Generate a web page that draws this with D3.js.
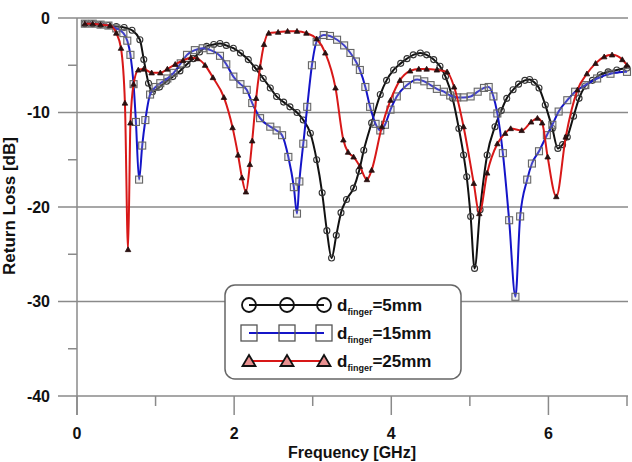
<!DOCTYPE html>
<html>
<head>
<meta charset="utf-8">
<script src="https://cdn.jsdelivr.net/npm/d3@7"></script>
<style>
  html, body { margin: 0; padding: 0; background: #fff; }
  svg text { font-family: "Liberation Sans", Arial, sans-serif; font-weight: bold; fill: #111; }
</style>
</head>
<body>
<div id="chart"></div>
<script>
// return loss curves, [frequency GHz, dB]
const finger5 = [
  [0.1,-0.6],[0.2,-0.6],[0.3,-0.7],[0.4,-0.8],[0.5,-0.9],[0.6,-1.0],[0.7,-1.3],[0.8,-2.3],
  [0.85,-4.4],[0.91,-6.9],[0.96,-7.8],[1.05,-7.3],[1.14,-6.7],[1.22,-6.2],[1.31,-5.6],[1.4,-4.9],
  [1.48,-4.3],[1.56,-3.6],[1.65,-3.0],[1.74,-2.8],[1.82,-2.7],[1.9,-2.9],[1.99,-3.2],[2.08,-3.7],
  [2.18,-4.4],[2.27,-5.3],[2.37,-6.4],[2.46,-7.4],[2.54,-8.3],[2.63,-8.9],[2.71,-9.4],[2.8,-10.0],
  [2.88,-10.8],[2.97,-12.2],[3.05,-15.0],[3.12,-18.5],[3.18,-22.5],[3.24,-25.4],[3.3,-23.0],
  [3.36,-20.6],[3.43,-19.2],[3.52,-18.0],[3.59,-16.2],[3.65,-14.0],[3.75,-11.1],[3.86,-8.1],
  [3.94,-6.6],[4.03,-5.5],[4.12,-4.8],[4.2,-4.3],[4.28,-3.9],[4.37,-3.7],[4.45,-3.9],[4.54,-4.4],
  [4.62,-5.1],[4.69,-6.2],[4.78,-8.5],[4.86,-11.7],[4.92,-14.5],[4.96,-16.8],[5.01,-21.0],
  [5.06,-26.5],[5.13,-20.3],[5.22,-14.5],[5.32,-11.5],[5.4,-9.8],[5.47,-8.5],[5.55,-7.6],
  [5.62,-7.0],[5.7,-6.6],[5.76,-6.5],[5.82,-6.8],[5.88,-7.4],[5.96,-9.2],[6.05,-11.7],[6.12,-13.8],
  [6.18,-13.4],[6.24,-12.6],[6.32,-10.4],[6.39,-8.5],[6.47,-7.2],[6.56,-6.6],[6.66,-6.0],
  [6.76,-5.7],[6.87,-5.5],[7.0,-5.3]
];
const finger15 = [
  [0.1,-0.6],[0.2,-0.6],[0.3,-0.7],[0.4,-0.8],[0.5,-1.1],[0.59,-1.6],[0.64,-2.4],[0.68,-3.9],
  [0.72,-7.0],[0.75,-11.0],[0.79,-17.1],[0.83,-13.5],[0.87,-10.8],[0.93,-8.1],[1.0,-7.3],
  [1.06,-6.9],[1.15,-6.4],[1.23,-5.8],[1.32,-4.8],[1.4,-3.9],[1.5,-3.4],[1.6,-3.2],[1.7,-3.4],
  [1.82,-4.0],[1.9,-4.9],[1.99,-6.2],[2.08,-7.0],[2.16,-7.6],[2.23,-9.0],[2.33,-10.6],[2.46,-11.5],
  [2.54,-11.9],[2.61,-12.4],[2.69,-14.7],[2.76,-17.9],[2.8,-20.7],[2.83,-17.3],[2.88,-13.3],
  [2.93,-9.4],[2.99,-5.0],[3.05,-2.5],[3.14,-1.8],[3.22,-1.9],[3.31,-2.3],[3.4,-2.9],[3.48,-3.7],
  [3.55,-4.6],[3.6,-5.5],[3.67,-7.3],[3.73,-9.4],[3.8,-11.2],[3.86,-11.9],[3.92,-11.3],[3.99,-9.7],
  [4.07,-8.3],[4.2,-7.1],[4.33,-6.5],[4.42,-6.7],[4.5,-7.1],[4.58,-7.5],[4.67,-7.8],[4.75,-8.2],
  [4.84,-8.4],[4.92,-8.4],[5.01,-8.3],[5.1,-7.8],[5.18,-7.4],[5.24,-7.3],[5.3,-8.3],[5.35,-10.1],
  [5.42,-14.3],[5.5,-21.4],[5.58,-29.5],[5.64,-21.0],[5.73,-17.1],[5.79,-15.4],[5.88,-14.1],
  [5.98,-12.4],[6.05,-11.3],[6.13,-9.9],[6.24,-8.7],[6.34,-7.8],[6.47,-7.1],[6.62,-6.4],
  [6.79,-5.9],[7.0,-5.7]
];
const finger25 = [
  [0.1,-0.6],[0.2,-0.6],[0.3,-0.7],[0.42,-0.8],[0.5,-1.6],[0.56,-3.2],[0.61,-9.0],[0.65,-24.5],
  [0.68,-11.1],[0.72,-7.0],[0.78,-5.5],[0.85,-5.4],[0.95,-5.8],[1.06,-5.8],[1.15,-5.4],[1.25,-4.9],
  [1.35,-4.5],[1.45,-4.2],[1.53,-4.3],[1.63,-5.0],[1.73,-6.3],[1.87,-8.4],[1.98,-11.6],[2.05,-14.5],
  [2.1,-16.9],[2.15,-18.4],[2.2,-15.5],[2.23,-13.0],[2.28,-8.5],[2.33,-5.2],[2.38,-2.8],[2.44,-1.6],
  [2.56,-1.5],[2.68,-1.4],[2.8,-1.4],[2.92,-1.6],[3.05,-2.2],[3.16,-3.7],[3.29,-7.4],[3.39,-12.9],
  [3.45,-14.2],[3.52,-14.7],[3.6,-15.7],[3.69,-17.1],[3.75,-16.1],[3.88,-11.5],[3.99,-8.7],
  [4.11,-6.6],[4.24,-5.6],[4.35,-5.4],[4.45,-5.4],[4.58,-5.5],[4.71,-5.7],[4.8,-7.3],[4.92,-11.5],
  [5.05,-17.5],[5.12,-20.7],[5.22,-16.4],[5.35,-13.3],[5.45,-12.2],[5.52,-11.7],[5.66,-11.9],
  [5.78,-11.0],[5.86,-10.6],[5.92,-11.1],[5.99,-14.7],[6.1,-18.9],[6.22,-12.6],[6.37,-7.6],
  [6.49,-5.9],[6.6,-4.8],[6.71,-4.1],[6.81,-3.9],[6.94,-4.4],[7.0,-5.0]
];

const seriesNames = ["5mm", "15mm", "25mm"];
const xTicks = [0, 2, 4, 6];
const xMinorTicks = [1, 3, 5, 7];
const yTicks = [0, -10, -20, -30, -40];
const yMinorTicks = [-5, -15, -25, -35];

const width = 632, height = 462;

const svg = d3.select("#chart").append("svg")
    .attr("width", width)
    .attr("height", height);

const x = d3.scaleLinear().domain([0, 7]).range([77, 627]);
const y = d3.scaleLinear().domain([-40, 0]).range([396, 18]);

const gridColor = "#8a8a8a";

// horizontal grid lines (also serve as major y ticks and the x axis)
svg.append("g")
    .selectAll("line")
    .data(yTicks)
    .join("line")
    .attr("x1", 58)
    .attr("x2", 628)
    .attr("y1", d => y(d))
    .attr("y2", d => y(d))
    .attr("stroke", gridColor)
    .attr("stroke-width", 1.5);

// y axis line
svg.append("line")
    .attr("x1", x(0)).attr("x2", x(0))
    .attr("y1", y(0)).attr("y2", 415)
    .attr("stroke", gridColor)
    .attr("stroke-width", 1.5);

svg.append("g")
    .selectAll("line")
    .data(yMinorTicks)
    .join("line")
    .attr("x1", 68).attr("x2", x(0))
    .attr("y1", d => y(d)).attr("y2", d => y(d))
    .attr("stroke", gridColor)
    .attr("stroke-width", 1.5);

svg.append("g")
    .selectAll("line")
    .data(xTicks.concat(xMinorTicks))
    .join("line")
    .attr("x1", d => x(d)).attr("x2", d => x(d))
    .attr("y1", y(-40))
    .attr("y2", d => xTicks.includes(d) ? 415 : 406)
    .attr("stroke", gridColor)
    .attr("stroke-width", 1.5);

// tick labels
svg.append("g")
    .selectAll("text")
    .data(yTicks)
    .join("text")
    .attr("x", 50)
    .attr("y", d => y(d))
    .attr("dy", "0.36em")
    .attr("text-anchor", "end")
    .style("font-size", "16px")
    .text(d => d);

svg.append("g")
    .selectAll("text")
    .data(xTicks)
    .join("text")
    .attr("x", d => x(d))
    .attr("y", 439)
    .attr("text-anchor", "middle")
    .style("font-size", "16px")
    .text(d => d);

// axis titles
svg.append("text")
    .attr("x", (x(0) + x(7)) / 2)
    .attr("y", 458)
    .attr("text-anchor", "middle")
    .style("font-size", "16px")
    .text("Frequency [GHz]");

svg.append("text")
    .attr("transform", "translate(15,206) rotate(-90)")
    .attr("text-anchor", "middle")
    .style("font-size", "17px")
    .text("Return Loss [dB]");

// curves
const line = d3.line()
    .x(d => x(d[0]))
    .y(d => y(d[1]))
    .curve(d3.curveMonotoneX);

const styles = [
    { data: finger5, color: "#111111", marker: "circle" },
    { data: finger15, color: "#1515c8", marker: "square" },
    { data: finger25, color: "#d81818", marker: "triangle" }
];

function drawMarker(g, type, size) {
    if (type === "circle") {
        g.append("circle").attr("r", size / 2)
            .attr("fill", "none").attr("stroke", "#333").attr("stroke-width", 1.1);
    } else if (type === "square") {
        g.append("rect")
            .attr("x", -size / 2).attr("y", -size / 2)
            .attr("width", size).attr("height", size)
            .attr("fill", "rgba(200,200,200,0.25)").attr("stroke", "#666").attr("stroke-width", 1.1);
    } else {
        const s = size;
        g.append("path")
            .attr("d", `M0,${-s * 0.55}L${s * 0.55},${s * 0.42}L${-s * 0.55},${s * 0.42}Z`)
            .attr("fill", "#2a1010").attr("stroke", "#2a1010").attr("stroke-width", 0.8);
    }
}

styles.forEach(s => {
    const g = svg.append("g");
    g.append("path")
        .datum(s.data)
        .attr("d", line)
        .attr("fill", "none")
        .attr("stroke", s.color)
        .attr("stroke-width", 2);

    g.selectAll("g.m")
        .data(s.data)
        .join("g")
        .attr("class", "m")
        .attr("transform", d => `translate(${x(d[0])},${y(d[1])})`)
        .each(function() {
            const size = s.marker === "circle" ? 6 : (s.marker === "square" ? 7 : 5);
            drawMarker(d3.select(this), s.marker, size);
        });
});

// legend
const legend = svg.append("g");
legend.append("rect")
    .attr("x", 225).attr("y", 285)
    .attr("width", 236).attr("height", 94)
    .attr("rx", 10)
    .attr("fill", "#fff")
    .attr("stroke", "#666")
    .attr("stroke-width", 1.5);

const legendMarkX = [249, 287, 324];
styles.forEach((s, i) => {
    const ly = 305 + i * 28;
    const row = legend.append("g");
    row.append("line")
        .attr("x1", legendMarkX[0]).attr("x2", legendMarkX[2])
        .attr("y1", ly).attr("y2", ly)
        .attr("stroke", s.color)
        .attr("stroke-width", 2);
    legendMarkX.forEach(mx => {
        const mg = row.append("g").attr("transform", `translate(${mx},${ly})`);
        if (s.marker === "circle") {
            mg.append("circle").attr("r", 7)
                .attr("fill", "none").attr("stroke", "#111").attr("stroke-width", 1.8);
        } else if (s.marker === "square") {
            mg.append("rect").attr("x", -8).attr("y", -8).attr("width", 16).attr("height", 16)
                .attr("fill", "none").attr("stroke", "#555").attr("stroke-width", 1.3);
        } else {
            mg.append("path").attr("d", "M0,-6L6.5,5L-6.5,5Z")
                .attr("fill", "#e89090").attr("stroke", "#111").attr("stroke-width", 1.8);
        }
    });
    const t = row.append("text")
        .attr("x", 337).attr("y", ly + 6)
        .style("font-size", "17px");
    t.append("tspan").text("d");
    t.append("tspan").attr("dy", 4).style("font-size", "9px").text("finger");
    t.append("tspan").attr("dy", -4).text("=" + seriesNames[i]);
});
</script>
</body>
</html>
